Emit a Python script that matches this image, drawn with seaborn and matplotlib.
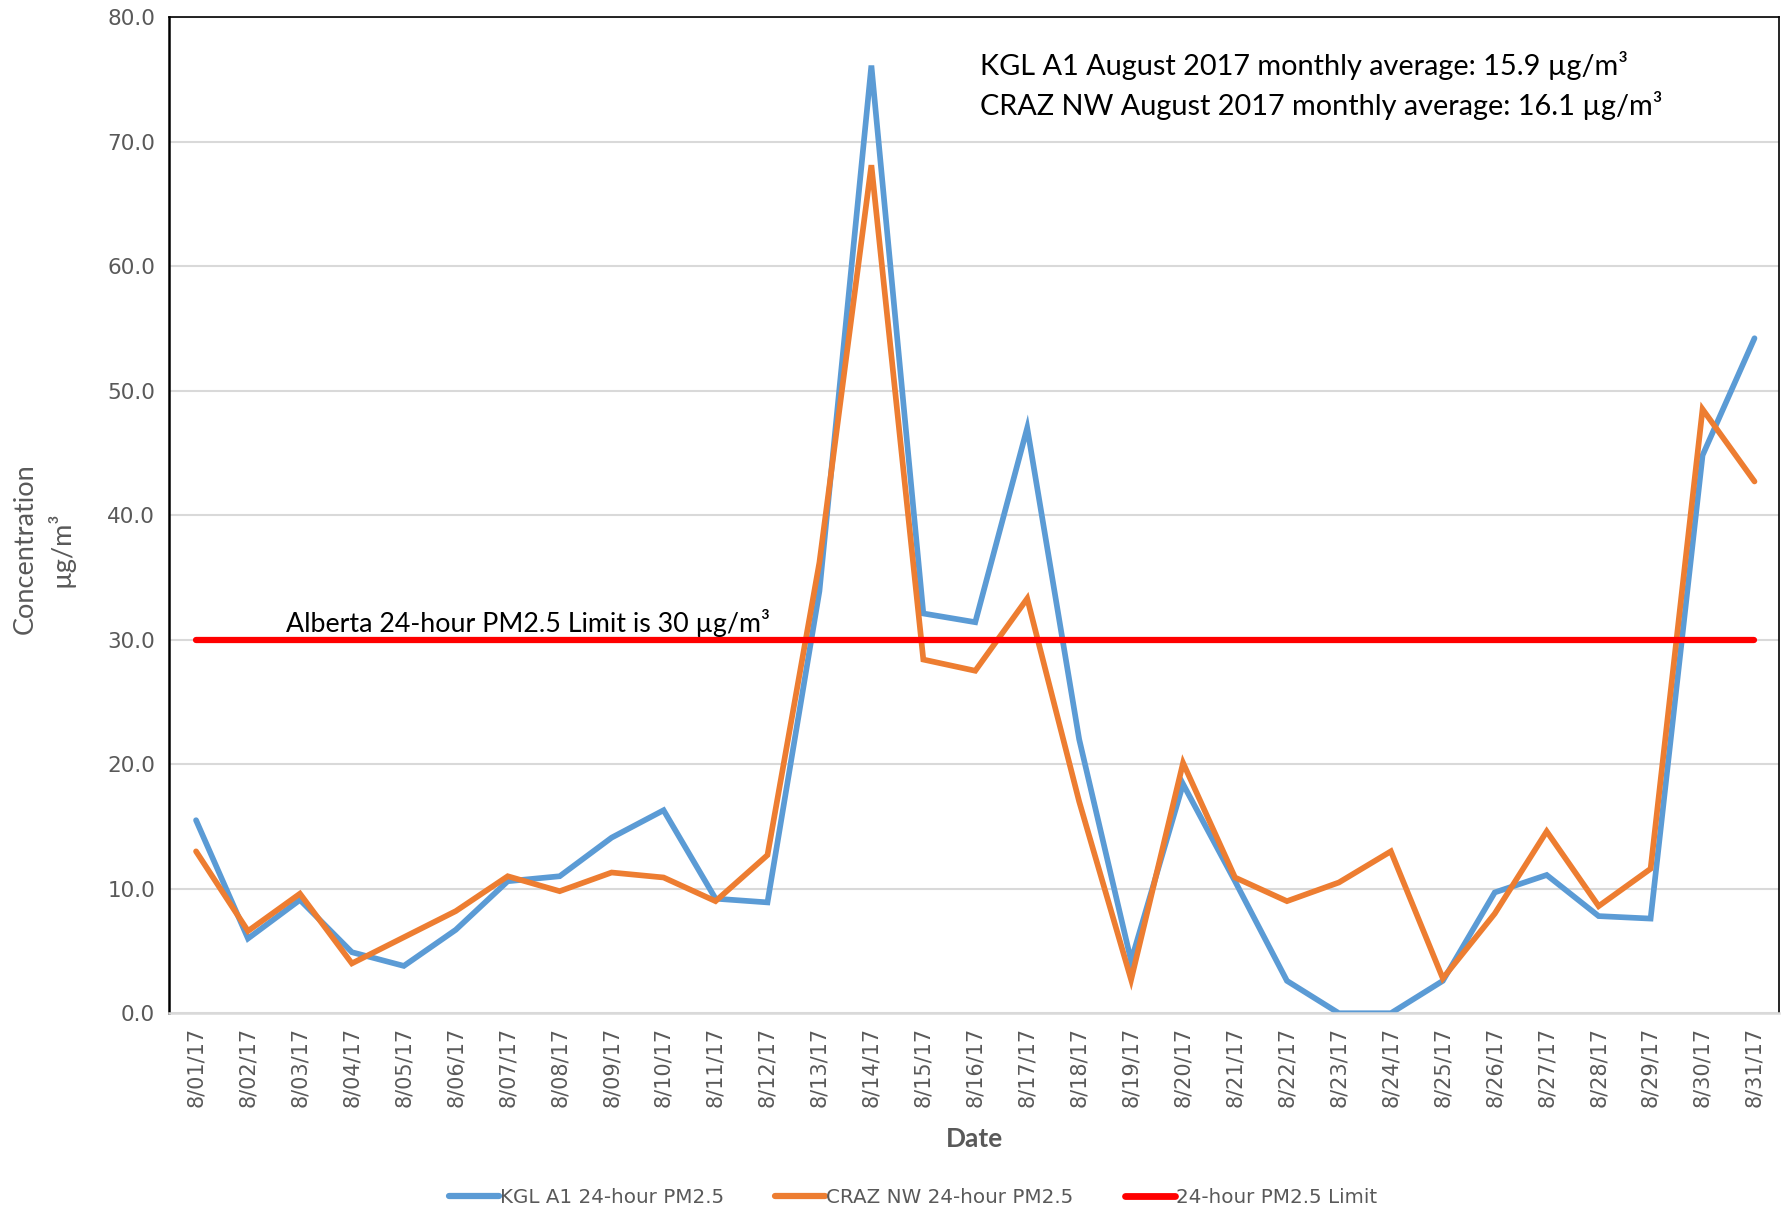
import matplotlib
matplotlib.use("Agg")
import matplotlib.pyplot as plt
import seaborn as sns
import pandas as pd
import numpy as np
from matplotlib.lines import Line2D

dates = ["8/01/17", "8/02/17", "8/03/17", "8/04/17", "8/05/17", "8/06/17", "8/07/17",
         "8/08/17", "8/09/17", "8/10/17", "8/11/17", "8/12/17", "8/13/17", "8/14/17",
         "8/15/17", "8/16/17", "8/17/17", "8/18/17", "8/19/17", "8/20/17", "8/21/17",
         "8/22/17", "8/23/17", "8/24/17", "8/25/17", "8/26/17", "8/27/17", "8/28/17",
         "8/29/17", "8/30/17", "8/31/17"]
kgl = [15.5, 6.0, 9.1, 4.9, 3.8, 6.7, 10.6, 11.0, 14.1, 16.3, 9.2, 8.9, 33.9, 76.1,
       32.1, 31.4, 47.0, 22.0, 4.2, 18.4, 10.6, 2.6, 0.0, 0.0, 2.6, 9.7, 11.1, 7.8,
       7.6, 44.8, 54.2]
craz = [13.0, 6.6, 9.6, 4.0, 6.1, 8.2, 11.0, 9.8, 11.3, 10.9, 9.0, 12.7, 36.2, 68.1,
        28.4, 27.5, 33.3, 17.0, 2.7, 20.1, 10.9, 9.0, 10.5, 13.0, 2.8, 8.0, 14.6, 8.6,
        11.6, 48.5, 42.7]
limit = [30.0] * len(dates)

series_names = ["KGL A1 24-hour PM2.5", "CRAZ NW 24-hour PM2.5", "24-hour PM2.5 Limit"]
colors = ["#5B9BD5", "#ED7D31", "#FF0000"]
widths = [4.1, 4.1, 4.5]

df = pd.DataFrame({
    "idx": list(range(len(dates))) * 3,
    "value": kgl + craz + limit,
    "series": [series_names[0]] * len(dates) + [series_names[1]] * len(dates) + [series_names[2]] * len(dates),
})

sns.set_theme(style="white")
plt.rcParams["font.family"] = ["Lato", "DejaVu Sans"]

fig = plt.figure(figsize=(17.83, 12.12), dpi=100)
ax = fig.add_axes([0.0948, 0.164, 0.9032, 0.822])

for name, col, lw in zip(series_names, colors, widths):
    sub = df[df["series"] == name]
    sns.lineplot(data=sub, x="idx", y="value", ax=ax, color=col, linewidth=lw,
                 legend=False, solid_capstyle="round", solid_joinstyle="miter")

ax.set_xlim(-0.52, 30.48)
ax.set_ylim(0, 80)
ax.set_yticks(np.arange(0, 81, 10))
ax.set_yticklabels([f"{v:.1f}" for v in np.arange(0, 81, 10)],
                   fontsize=15.5, color="#595959", family=["DejaVu Sans"])
ax.set_xticks(range(len(dates)))
ax.set_xticklabels(dates, rotation=90, fontsize=15, color="#595959",
                   family=["Liberation Sans Narrow", "DejaVu Sans"])
ax.yaxis.grid(True, color="#D9D9D9", linewidth=1.5)
ax.set_axisbelow(True)
ax.tick_params(axis="both", length=0, pad=10)

for s in ["left", "top", "right"]:
    ax.spines[s].set_color("black")
ax.spines["left"].set_linewidth(1.8)
ax.spines["top"].set_linewidth(1.2)
ax.spines["right"].set_linewidth(1.2)
ax.spines["bottom"].set_color("#D9D9D9")
ax.spines["bottom"].set_linewidth(1.8)

ax.set_xlabel("Date", fontsize=19, fontweight="bold", color="#595959", labelpad=14)
ax.set_ylabel("Concentration\nµg/m³", fontsize=19.5, color="#595959",
              family=["Liberation Sans Narrow", "Lato", "DejaVu Sans"], linespacing=1.35)
ax.yaxis.set_label_coords(-0.059, 0.466)

ax.text(15.1, 76.1, "KGL A1 August 2017 monthly average: 15.9 µg/m³", fontsize=20.8,
        color="black", va="center", ha="left")
ax.text(15.1, 72.9, "CRAZ NW August 2017 monthly average: 16.1 µg/m³", fontsize=20.8,
        color="black", va="center", ha="left")
ax.text(1.73, 31.3, "Alberta 24-hour PM2.5 Limit is 30 µg/m³", fontsize=19.3,
        color="black", va="center", ha="left")

handles = [Line2D([0], [0], color=c, linewidth=lw + 0.4, solid_capstyle="round") for c, lw in zip(colors, widths)]
fig.legend(handles, series_names, loc="center", bbox_to_anchor=(0.512, 0.012),
           ncol=3, frameon=False, handlelength=2.5, columnspacing=2.6,
           handletextpad=0.05, labelcolor="#595959",
           prop={"family": ["Liberation Sans Narrow", "DejaVu Sans"], "size": 14.3})

fig.savefig("out.png", dpi=100)
